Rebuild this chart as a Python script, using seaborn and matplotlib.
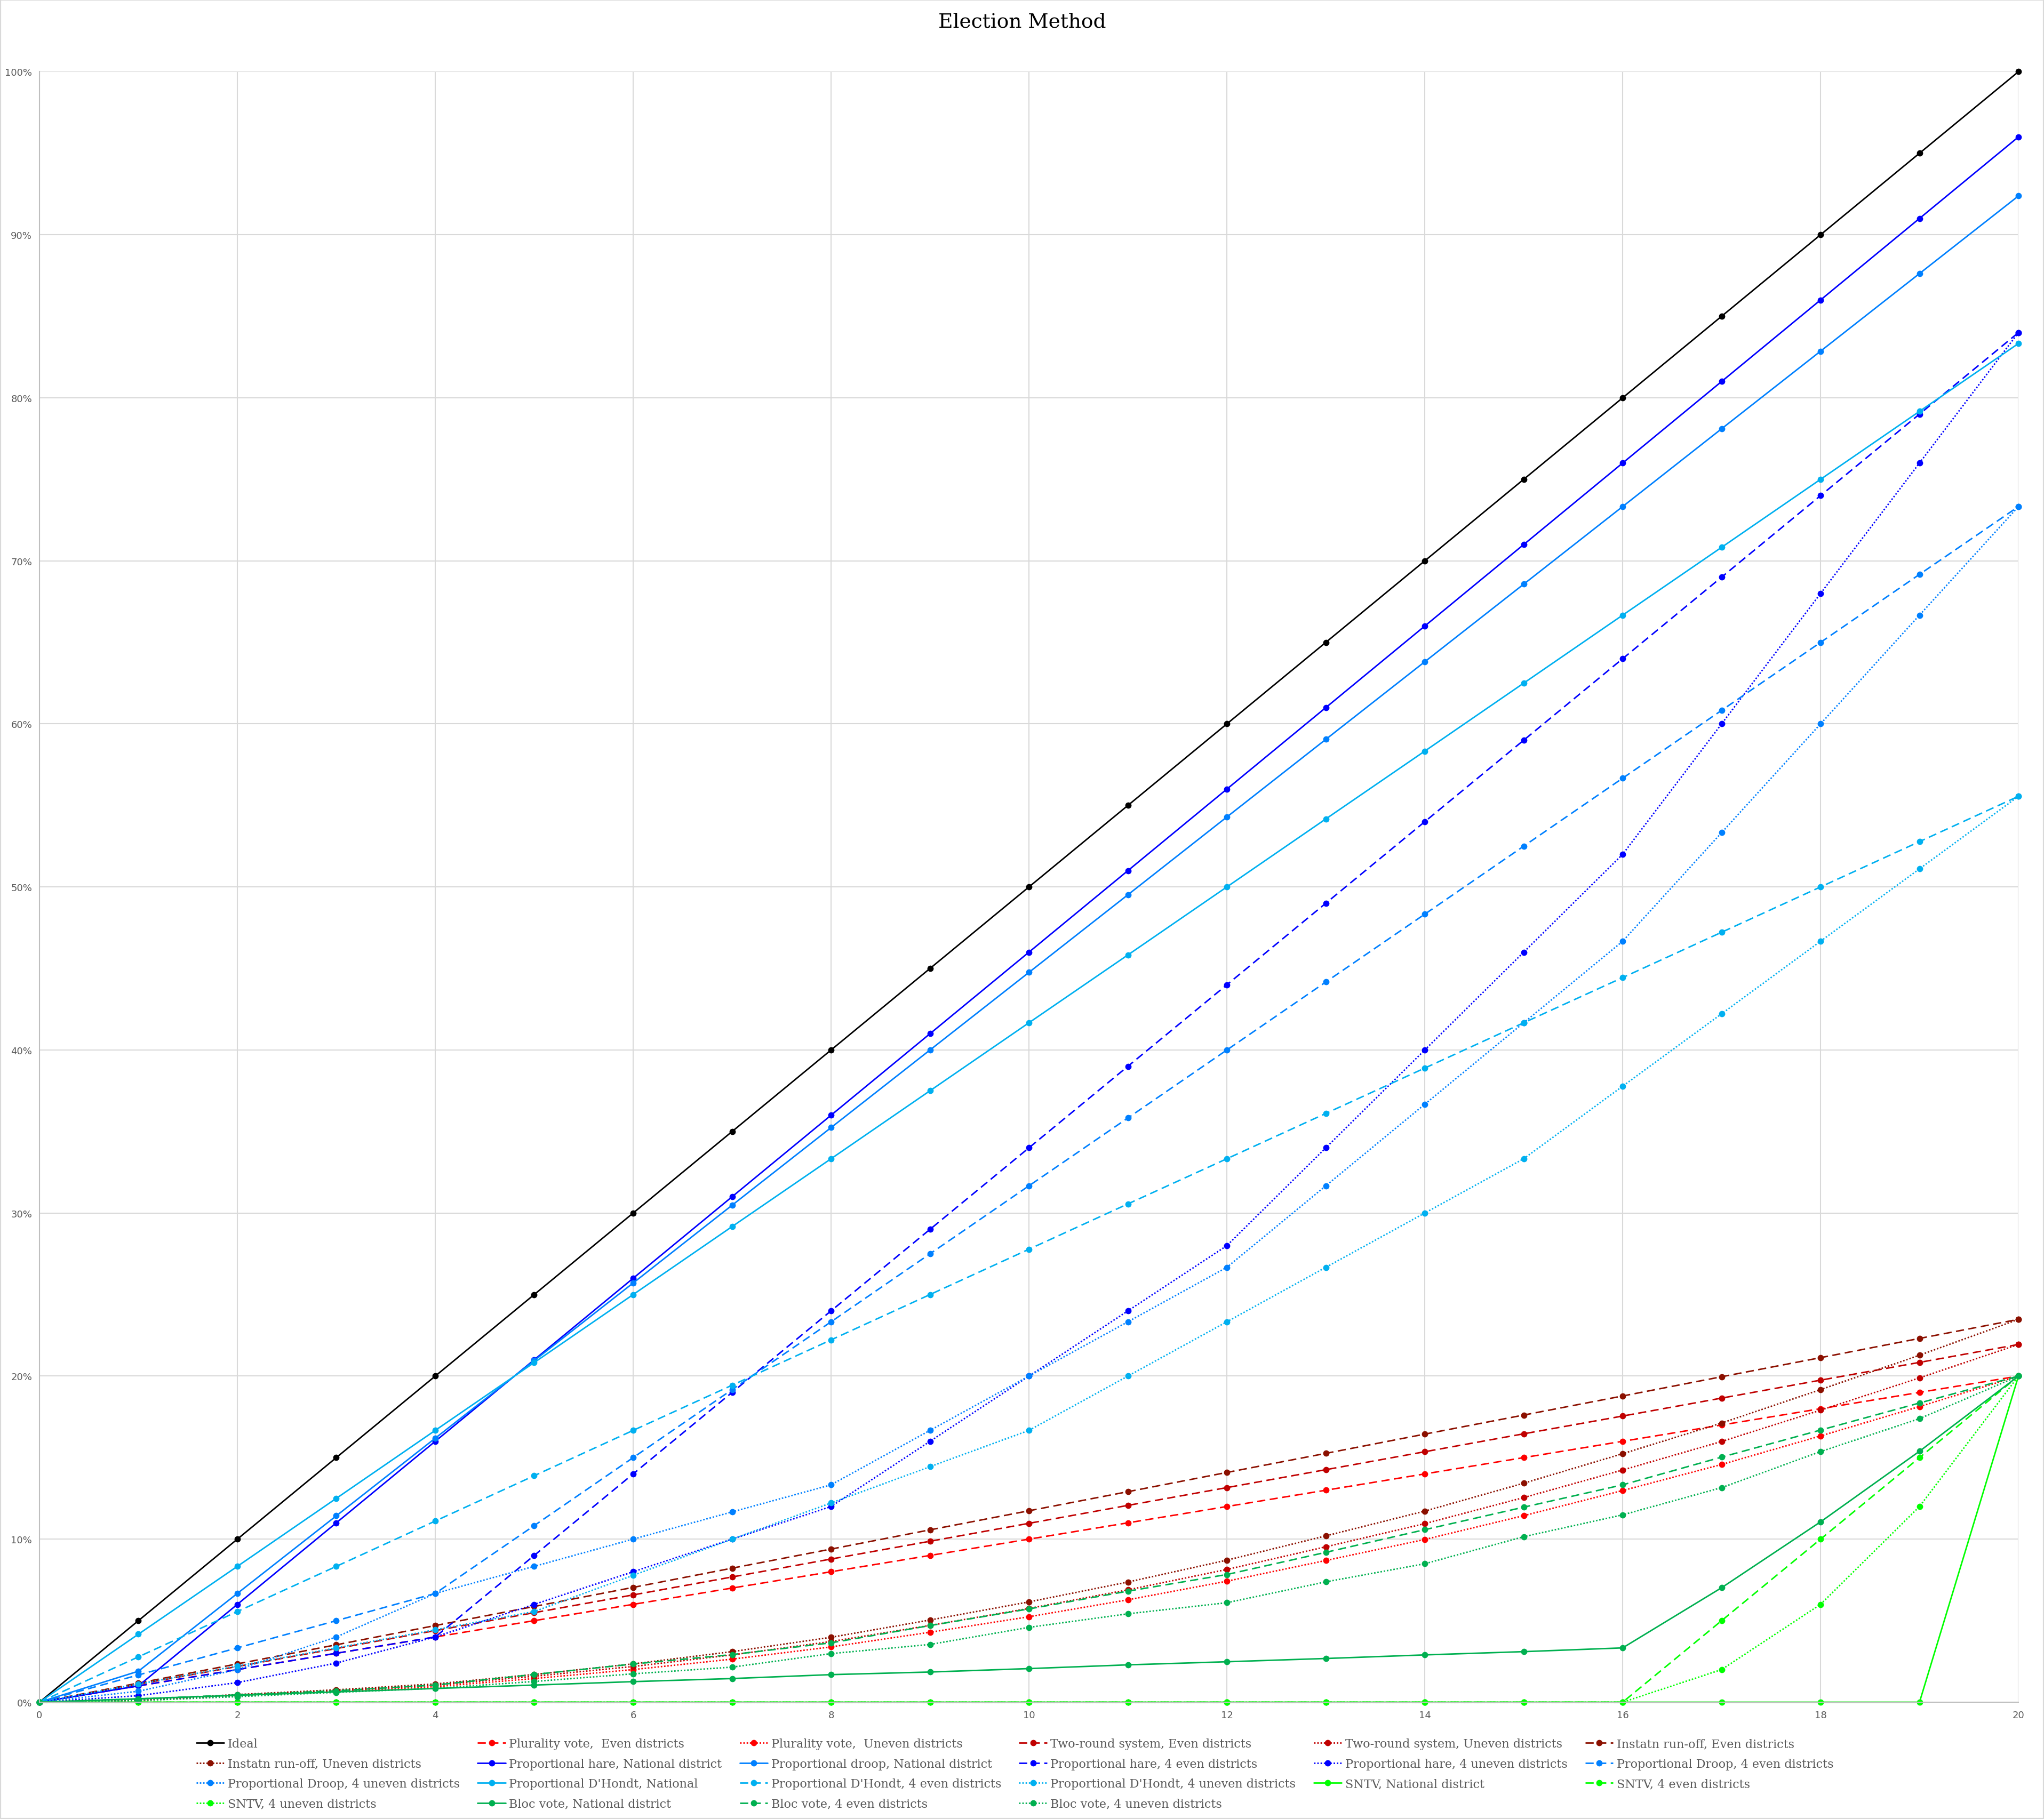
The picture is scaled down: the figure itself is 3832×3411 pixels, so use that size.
import numpy as np
import pandas as pd
import matplotlib
matplotlib.use("Agg")
import matplotlib.pyplot as plt
from matplotlib.patches import Rectangle
from matplotlib.ticker import FuncFormatter
import seaborn as sns

# seats won (x) vs share of the vote (%)
seats = list(range(21))

ideal = [0, 5, 10, 15, 20, 25, 30, 35, 40, 45, 50, 55, 60, 65, 70, 75, 80, 85, 90, 95, 100]
plur_even = [0, 1, 2, 3, 4, 5, 6, 7, 8, 9, 10, 11, 12, 13, 14, 15, 16, 17, 18, 19, 20]
plur_uneven = [0, 0.1, 0.4, 0.65, 0.95, 1.45, 2.0, 2.64, 3.39, 4.29, 5.24, 6.28, 7.42, 8.69,
               9.98, 11.44, 12.98, 14.58, 16.33, 18.13, 20]
tr_even = [0, 1.1, 2.19, 3.29, 4.39, 5.49, 6.58, 7.68, 8.78, 9.87, 10.97, 12.07, 13.16, 14.26,
           15.36, 16.46, 17.55, 18.65, 19.75, 20.84, 21.94]
tr_uneven = [0, 0.11, 0.44, 0.71, 1.04, 1.59, 2.19, 2.9, 3.72, 4.71, 5.75, 6.89, 8.14, 9.53,
             10.95, 12.55, 14.24, 15.99, 17.91, 19.89, 21.94]
iro_even = [0, 1.17, 2.35, 3.52, 4.7, 5.87, 7.04, 8.22, 9.39, 10.57, 11.74, 12.91, 14.09, 15.26,
            16.44, 17.61, 18.78, 19.96, 21.13, 22.31, 23.48]
iro_uneven = [0, 0.12, 0.47, 0.76, 1.12, 1.7, 2.35, 3.1, 3.98, 5.04, 6.15, 7.37, 8.71, 10.2,
              11.72, 13.43, 15.24, 17.12, 19.17, 21.28, 23.48]
hare_nat = [0, 1, 6, 11, 16, 21, 26, 31, 36, 41, 46, 51, 56, 61, 66, 71, 76, 81, 86, 91, 96]
droop_nat = [0, 1.9, 6.67, 11.43, 16.19, 20.95, 25.71, 30.48, 35.24, 40, 44.76, 49.52, 54.29,
             59.05, 63.81, 68.57, 73.33, 78.1, 82.86, 87.62, 92.38]
hare_even = [0, 1, 2, 3, 4, 9, 14, 19, 24, 29, 34, 39, 44, 49, 54, 59, 64, 69, 74, 79, 84]
hare_uneven = [0, 0.4, 1.2, 2.4, 4, 6, 8, 10, 12, 16, 20, 24, 28, 34, 40, 46, 52, 60, 68, 76, 84]
droop_even = [0, 1.67, 3.33, 5, 6.67, 10.83, 15, 19.17, 23.33, 27.5, 31.67, 35.83, 40, 44.17,
              48.33, 52.5, 56.67, 60.83, 65, 69.17, 73.33]
droop_uneven = [0, 0.67, 2, 4, 6.67, 8.33, 10, 11.67, 13.33, 16.67, 20, 23.33, 26.67, 31.67,
                36.67, 41.67, 46.67, 53.33, 60, 66.67, 73.33]
dh_nat = [0, 4.17, 8.33, 12.5, 16.67, 20.83, 25, 29.17, 33.33, 37.5, 41.67, 45.83, 50, 54.17,
          58.33, 62.5, 66.67, 70.83, 75, 79.17, 83.33]
dh_even = [0, 2.78, 5.56, 8.33, 11.11, 13.89, 16.67, 19.44, 22.22, 25, 27.78, 30.56, 33.33,
           36.11, 38.89, 41.67, 44.44, 47.22, 50, 52.78, 55.56]
dh_uneven = [0, 1.11, 2.22, 3.33, 4.44, 5.56, 7.78, 10, 12.22, 14.44, 16.67, 20, 23.33, 26.67,
             30, 33.33, 37.78, 42.22, 46.67, 51.11, 55.56]
sntv_nat = [0, 0, 0, 0, 0, 0, 0, 0, 0, 0, 0, 0, 0, 0, 0, 0, 0, 0, 0, 0, 20]
sntv_even = [0, 0, 0, 0, 0, 0, 0, 0, 0, 0, 0, 0, 0, 0, 0, 0, 0, 5, 10, 15, 20]
sntv_uneven = [0, 0, 0, 0, 0, 0, 0, 0, 0, 0, 0, 0, 0, 0, 0, 0, 0, 2, 6, 12, 20]
bloc_nat = [0, 0.21, 0.42, 0.63, 0.84, 1.05, 1.26, 1.45, 1.69, 1.85, 2.06, 2.29, 2.48, 2.68,
            2.9, 3.1, 3.33, 7.02, 11.06, 15.39, 20]
bloc_even = [0, 0.2, 0.45, 0.7, 1.05, 1.7, 2.34, 2.92, 3.64, 4.7, 5.72, 6.81, 7.83, 9.19,
             10.58, 11.96, 13.33, 15.03, 16.69, 18.35, 20]
bloc_uneven = [0, 0.1, 0.34, 0.6, 0.85, 1.27, 1.74, 2.15, 2.98, 3.54, 4.59, 5.42, 6.1, 7.38,
               8.49, 10.15, 11.49, 13.16, 15.37, 17.39, 20]

x_ticks = [0, 2, 4, 6, 8, 10, 12, 14, 16, 18, 20]
y_ticks = [0, 10, 20, 30, 40, 50, 60, 70, 80, 90, 100]

SOLID = "-"
DASH = (0, (5.5, 3))
DOT = (0, (1, 1.2))

# (label, values, colour, line style) in legend order
series = [
    ("Ideal", ideal, "#000000", SOLID),
    ("Plurality vote,  Even districts", plur_even, "#FF0000", DASH),
    ("Plurality vote,  Uneven districts", plur_uneven, "#FF0000", DOT),
    ("Two-round system, Even districts", tr_even, "#C00000", DASH),
    ("Two-round system, Uneven districts", tr_uneven, "#C00000", DOT),
    ("Instatn run-off, Even districts", iro_even, "#8B1000", DASH),
    ("Instatn run-off, Uneven districts", iro_uneven, "#8B1000", DOT),
    ("Proportional hare, National district", hare_nat, "#0000FF", SOLID),
    ("Proportional droop, National district", droop_nat, "#0080FF", SOLID),
    ("Proportional hare, 4 even districts", hare_even, "#0000FF", DASH),
    ("Proportional hare, 4 uneven districts", hare_uneven, "#0000FF", DOT),
    ("Proportional Droop, 4 even districts", droop_even, "#0080FF", DASH),
    ("Proportional Droop, 4 uneven districts", droop_uneven, "#0080FF", DOT),
    ("Proportional D'Hondt, National", dh_nat, "#00B0F0", SOLID),
    ("Proportional D'Hondt, 4 even districts", dh_even, "#00B0F0", DASH),
    ("Proportional D'Hondt, 4 uneven districts", dh_uneven, "#00B0F0", DOT),
    ("SNTV, National district", sntv_nat, "#00FF00", SOLID),
    ("SNTV, 4 even districts", sntv_even, "#00FF00", DASH),
    ("SNTV, 4 uneven districts", sntv_uneven, "#00FF00", DOT),
    ("Bloc vote, National district", bloc_nat, "#00B050", SOLID),
    ("Bloc vote, 4 even districts", bloc_even, "#00B050", DASH),
    ("Bloc vote, 4 uneven districts", bloc_uneven, "#00B050", DOT),
]

sns.set_style("white")
plt.rcParams['font.family'] = ['DejaVu Sans']

fig = plt.figure(figsize=(38.32, 34.12), dpi=100)
ax = fig.add_axes([0.0193, 0.0642, 0.9682, 0.8961])

for label, vals, col, ls in series:
    sns.lineplot(x=seats, y=vals, ax=ax, label=label, color=col, linestyle=ls,
                 linewidth=2.0, marker="o", markersize=8.5, markeredgewidth=0,
                 markeredgecolor=col, errorbar=None, clip_on=False)

ax.set_xlim(0, 20)
ax.set_ylim(0, 100)
ax.set_xticks(x_ticks)
ax.set_yticks(y_ticks)
ax.yaxis.set_major_formatter(FuncFormatter(lambda v, p: "{:.0f}%".format(v)))
ax.grid(True, color="#D9D9D9", linewidth=1.5)
ax.set_axisbelow(True)
ax.tick_params(axis="both", length=0, labelsize=13, labelcolor="#595959")
ax.tick_params(axis="y", pad=10)
ax.tick_params(axis="x", pad=11)
for s in ["top", "right"]:
    ax.spines[s].set_visible(False)
for s in ["left", "bottom"]:
    ax.spines[s].set_color("#BFBFBF")
    ax.spines[s].set_linewidth(1.5)
ax.set_xlabel("")
ax.set_ylabel("")

# legend: matplotlib fills columns first, reorder so it reads row by row
handles, labels = ax.get_legend_handles_labels()
ax.get_legend().remove()
order = []
for c in range(6):
    for r in range(4):
        i = r * 6 + c
        if i < len(handles):
            order.append(i)
leg = fig.legend([handles[i] for i in order], [labels[i] for i in order],
                 ncol=6, loc="upper center", bbox_to_anchor=(0.4965, 1 - 3240 / 3412),
                 frameon=False, prop={"family": "DejaVu Serif", "size": 16},
                 labelcolor="#595959", handlelength=2.35, handletextpad=0.3,
                 columnspacing=1.5, labelspacing=0.7)

fig.text(0.5, 1 - 41 / 3412, "Election Method", ha="center", va="center",
         fontsize=27, family="DejaVu Serif", color="#000000")

fig.patches.append(Rectangle((0, 0), 1, 1, transform=fig.transFigure, fill=False,
                             edgecolor="#D9D9D9", linewidth=3))

fig.savefig("out.png", dpi=100)
